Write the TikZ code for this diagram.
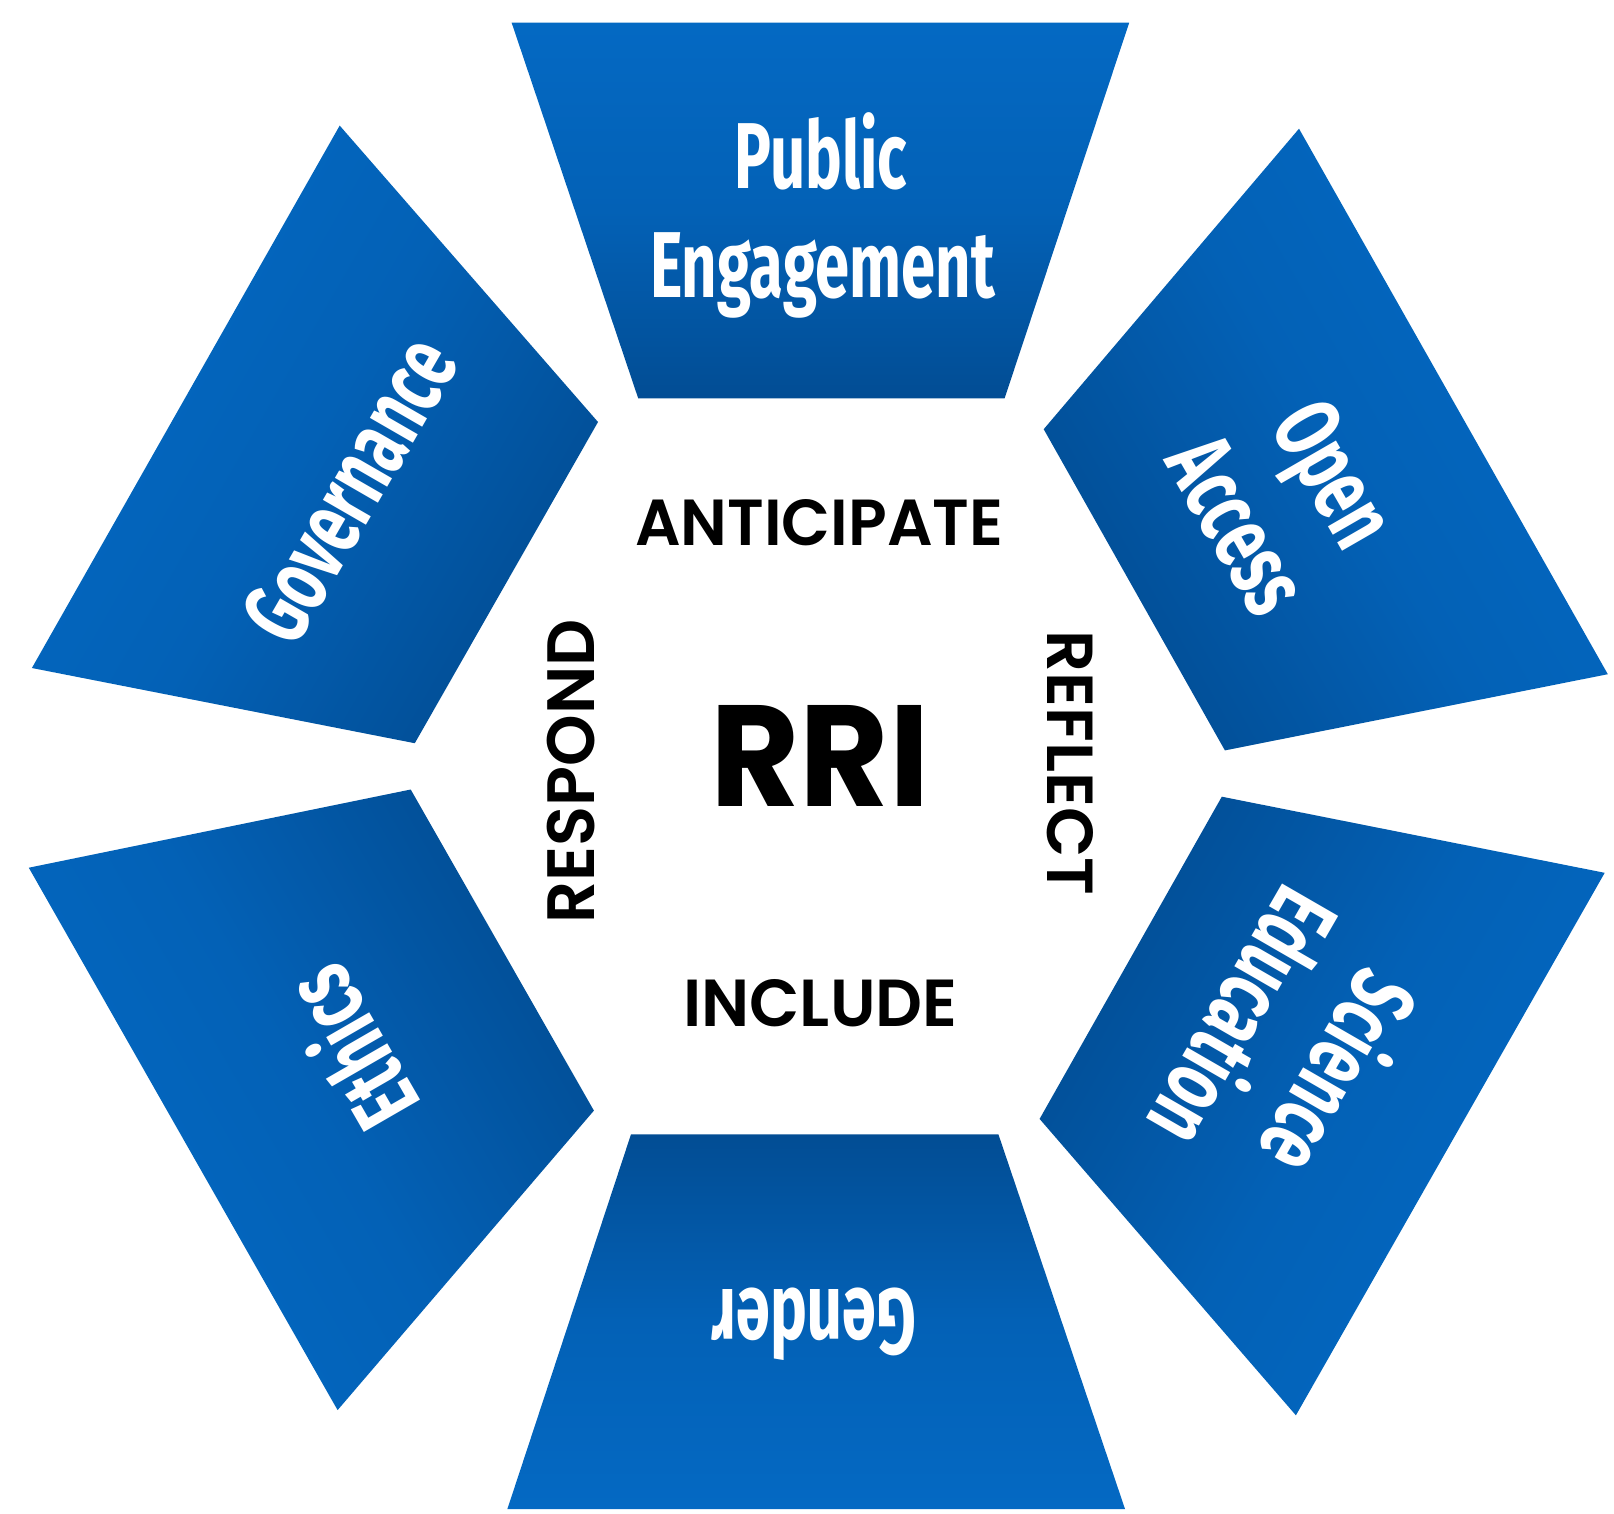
\documentclass[tikz,border=0pt]{standalone}
\usepackage{fontspec}
\usepackage{graphicx}
\newfontfamily\labfontbase{Fira Sans}
\newcommand\labfont{\labfontbase\bfseries\upshape}
\IfFontExistsTF{Poppins-SemiBold.ttf}{\newfontfamily\midfont{Poppins-SemiBold.ttf}}{%
  \IfFontExistsTF{Poppins SemiBold}{\newfontfamily\midfont{Poppins SemiBold}}{%
    \newfontfamily\midfontbase{Poppins}\newcommand\midfont{\midfontbase\bfseries\upshape}}}
\newfontfamily\bigfontbase{Poppins}
\newcommand\bigfont{\bigfontbase\bfseries\upshape}
\newcommand\labsize{\labfont\fontsize{93.6pt}{112pt}\selectfont}
\newcommand\cond[1]{\scalebox{\condfac}[1]{#1}}
\newlength\englen
\AtBeginDocument{%
  \settowidth\englen{\labsize Engagement}%
  \pgfmathsetmacro\condfac{345/\englen}%
}
\definecolor{bluetop}{RGB}{4,105,195}
\definecolor{bluemid}{RGB}{3,97,182}
\definecolor{bluebot}{RGB}{2,77,148}
\tikzset{
  petal/.style={top color=bluetop, bottom color=bluebot, middle color=bluemid, draw=none},
  lab/.style={text=white, inner sep=0pt, text height=64.5pt, text depth=0pt, font=\labsize},
  midword/.style={text=black, inner sep=0pt},
}
\begin{document}
\begin{tikzpicture}[x=1pt,y=-1pt]
\useasboundingbox (0,0) rectangle (1614,1513);
\fill[white] (0,0) rectangle (1614,1513);
% petals
\shade[petal, shading angle=0] (511.6,22.6) -- (1129.2,22.6) -- (1004.6,398.3) -- (638.2,398.3) -- cycle;
\shade[petal, shading angle=-60] (1299,128.7) -- (1607.8,674.2) -- (1224.9,750.4) -- (1043.7,429.2) -- cycle;
\shade[petal, shading angle=-120] (1221.8,796.7) -- (1604.7,872.8) -- (1295.9,1415.3) -- (1039.6,1118.9) -- cycle;
\shade[petal, shading angle=180] (631,1134.3) -- (998.4,1134.3) -- (1125,1509) -- (507.4,1509) -- cycle;
\shade[petal, shading angle=120] (410.7,789.5) -- (593.9,1110.6) -- (337.6,1410.1) -- (28.8,867.7) -- cycle;
\shade[petal, shading angle=60] (339.7,125.6) -- (598,422) -- (414.8,743.2) -- (31.9,668) -- cycle;
% petal labels
\node[lab] (pub) at (821,156) {\cond{Public}};
\node[lab] (eng) at (822.5,265.5) {\cond{Engagement}};
\node[lab, rotate=-60] (open) at (1335,473.5) {\cond{Open}};
\node[lab, rotate=-60] (acc) at (1238,525) {\cond{Access}};
\node[lab, rotate=-120] (sci) at (1338,1072.5) {\cond{Science}};
\node[lab, rotate=-120] (edu) at (1242.5,1017) {\cond{Education}};
\node[lab, rotate=180] (gen) at (814,1322) {\cond{Gender}};
\node[lab, rotate=120] (eth) at (352.5,1047) {\cond{Ethics}};
\node[lab, rotate=60] (gov) at (349.5,490) {\cond{Governance}};
% centre words
\node[midword] (ant) at (819.3,522.3) {\resizebox{368pt}{46pt}{\midfont ANTICIPATE}};
\node[midword] (inc) at (820.4,1003.6) {\resizebox{274pt}{47pt}{\midfont INCLUDE}};
\node[midword, rotate=90] (resp) at (571.3,771.5) {\resizebox{303.7pt}{47.4pt}{\midfont RESPOND}};
\node[midword, rotate=-90] (refl) at (1070,763.2) {\resizebox{264.5pt}{46pt}{\midfont REFLECT}};
\node[midword] (rri) at (819.8,755.5) {\resizebox{219.5pt}{101pt}{\bigfont RRI}};
\end{tikzpicture}
\end{document}
